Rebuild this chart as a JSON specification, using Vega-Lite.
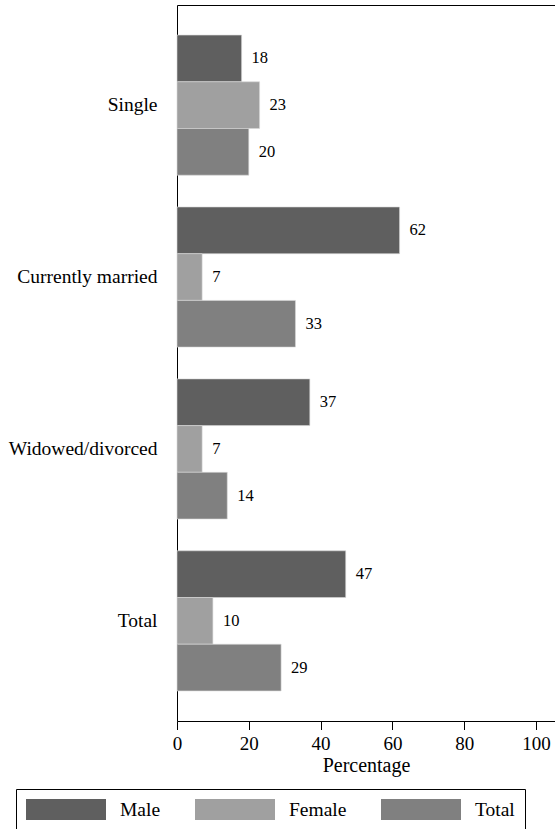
{
  "$schema": "https://vega.github.io/schema/vega-lite/v6.json",
  "autosize": {"type": "none"},
  "padding": {"left": 177, "top": 5, "right": 0, "bottom": 108},
  "width": 378,
  "height": 716,
  "background": "white",
  "config": {
    "view": {"stroke": null},
    "font": "'Liberation Serif'",
    "axis": {"grid": false, "domainColor": "black", "tickColor": "black", "labelColor": "black", "titleColor": "black", "labelFont": "'Liberation Serif'", "titleFont": "'Liberation Serif'"},
    "legend": {"labelFont": "'Liberation Serif'", "labelColor": "black"}
  },
  "data": {
    "values": [
      {"status": "Single", "sex": "Male", "pct": 18},
      {"status": "Single", "sex": "Female", "pct": 23},
      {"status": "Single", "sex": "Total", "pct": 20},
      {"status": "Currently married", "sex": "Male", "pct": 62},
      {"status": "Currently married", "sex": "Female", "pct": 7},
      {"status": "Currently married", "sex": "Total", "pct": 33},
      {"status": "Widowed/divorced", "sex": "Male", "pct": 37},
      {"status": "Widowed/divorced", "sex": "Female", "pct": 7},
      {"status": "Widowed/divorced", "sex": "Total", "pct": 14},
      {"status": "Total", "sex": "Male", "pct": 47},
      {"status": "Total", "sex": "Female", "pct": 10},
      {"status": "Total", "sex": "Total", "pct": 29}
    ]
  },
  "encoding": {
    "y": {
      "field": "status", "type": "nominal",
      "sort": ["Single", "Currently married", "Widowed/divorced", "Total"],
      "scale": {"paddingInner": 0.185, "paddingOuter": 0.175},
      "axis": {"title": null, "ticks": false, "labelPadding": 20, "labelFontSize": 19.5}
    },
    "yOffset": {
      "field": "sex", "type": "nominal",
      "sort": ["Male", "Female", "Total"],
      "scale": {"paddingInner": 0, "paddingOuter": 0}
    }
  },
  "layer": [
    {
      "mark": {"type": "bar", "stroke": "#d8d8d8", "strokeWidth": 0.6},
      "encoding": {
        "x": {
          "field": "pct", "type": "quantitative",
          "scale": {"domain": [0, 105.3], "nice": false},
          "axis": {"orient": "bottom", "values": [0, 20, 40, 60, 80, 100], "tickSize": 8.5, "labelFontSize": 19, "labelPadding": 5, "labelFlush": false, "title": "Percentage", "titleFontSize": 20, "titleFontWeight": "normal", "titlePadding": 2}
        },
        "color": {
          "field": "sex", "type": "nominal",
          "scale": {"domain": ["Male", "Female", "Total"], "range": ["#5f5f5f", "#a0a0a0", "#808080"]},
          "legend": {
            "title": null, "orient": "none", "legendX": -161, "legendY": 784,
            "direction": "horizontal",
            "symbolType": "M-1,-0.2625H1V0.2625H-1Z", "symbolSize": 6400, "symbolStrokeWidth": 0,
            "clipHeight": 21,
            "labelFontSize": 19.5, "labelOffset": 14, "columnPadding": 34,
            "padding": 10, "strokeColor": "black",
            "labelExpr": "datum.label == 'Total' ? 'Total\u00a0\u00a0\u00a0\u00a0\u00a0\u00a0\u00a0\u00a0' : datum.label"
          }
        }
      }
    },
    {
      "mark": {"type": "text", "align": "left", "baseline": "middle", "dx": 10, "fontSize": 16.5, "fill": "black", "font": "'Liberation Serif'"},
      "encoding": {
        "x": {
          "field": "pct", "type": "quantitative",
          "scale": {"domain": [0, 105.3], "nice": false},
          "axis": {"orient": "top", "labels": false, "ticks": false, "title": null}
        },
        "text": {"field": "pct", "type": "quantitative"}
      }
    }
  ],
  "resolve": {"axis": {"x": "independent"}}
}
